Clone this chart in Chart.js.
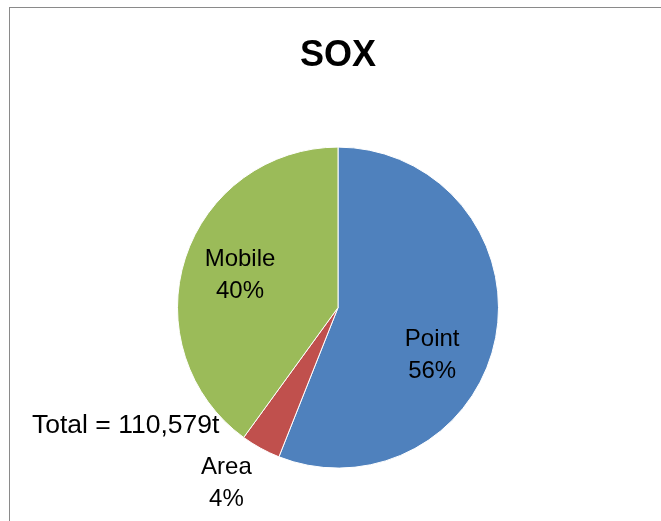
<!DOCTYPE html>
<html>
<head>
<meta charset="utf-8">
<script src="https://cdn.jsdelivr.net/npm/chart.js@4/dist/chart.umd.min.js"></script>
<style>
  html, body { margin: 0; padding: 0; background: #fff; }
  #wrap { position: absolute; left: 0; top: 0; width: 661px; height: 521px; }
</style>
</head>
<body>
<div id="wrap"><canvas id="c" width="661" height="521"></canvas></div>
<script>
const categories = ["Point", "Area", "Mobile"];
const shares = [56, 4, 40];
const colors = ["#4F81BD", "#C0504D", "#9BBB59"];
const titleText = "SOX";
const totalText = "Total = 110,579t";

const FONT = "'Liberation Sans', Arial, sans-serif";

const framePlugin = {
  id: 'frame',
  beforeDraw(chart) {
    const ctx = chart.ctx;
    ctx.save();
    ctx.fillStyle = '#fff';
    ctx.fillRect(0, 0, chart.width, chart.height);
    ctx.strokeStyle = '#8a8a8a';
    ctx.lineWidth = 1;
    ctx.strokeRect(9.5, 7.5, 800, 700);
    ctx.restore();
  }
};

const labelPlugin = {
  id: 'sliceLabels',
  afterDatasetsDraw(chart, args, opts) {
    const ctx = chart.ctx;
    const meta = chart.getDatasetMeta(0);
    ctx.save();
    ctx.fillStyle = '#000';
    ctx.textAlign = 'center';
    ctx.textBaseline = 'middle';
    ctx.font = '24px ' + FONT;
    meta.data.forEach((arc, i) => {
      const p = arc.getProps(['x', 'y', 'startAngle', 'endAngle', 'outerRadius'], true);
      const place = opts.place[i];
      const mid = (p.startAngle + p.endAngle) / 2 + place.shift * Math.PI / 180;
      const d = p.outerRadius * place.factor;
      const cx = p.x + Math.cos(mid) * d;
      const cy = p.y + Math.sin(mid) * d;
      ctx.fillText(categories[i], cx, cy - 15);
      ctx.fillText(shares[i] + '%', cx, cy + 17);
    });
    ctx.font = '26.5px ' + FONT;
    ctx.textAlign = 'left';
    ctx.textBaseline = 'alphabetic';
    ctx.fillText(totalText, 32, 433);
    ctx.restore();
  }
};

new Chart(document.getElementById('c'), {
  type: 'pie',
  data: {
    labels: categories,
    datasets: [{
      data: shares,
      backgroundColor: colors,
      borderColor: '#ffffff',
      borderWidth: 1
    }]
  },
  options: {
    responsive: false,
    animation: false,
    events: [],
    layout: { padding: { top: 0, bottom: 52, left: 177, right: 162 } },
    plugins: {
      legend: { display: false },
      tooltip: { enabled: false },
      title: {
        display: true,
        text: titleText,
        color: '#000',
        font: { family: FONT, size: 36, weight: 'bold', lineHeight: 1.2 },
        padding: { top: 34, bottom: 69 }
      },
      sliceLabels: {
        place: [
          { shift: 15.6, factor: 0.655 },
          { shift: 3.8, factor: 1.29 },
          { shift: 0.6, factor: 0.644 }
        ]
      }
    }
  },
  plugins: [framePlugin, labelPlugin]
});
</script>
</body>
</html>
